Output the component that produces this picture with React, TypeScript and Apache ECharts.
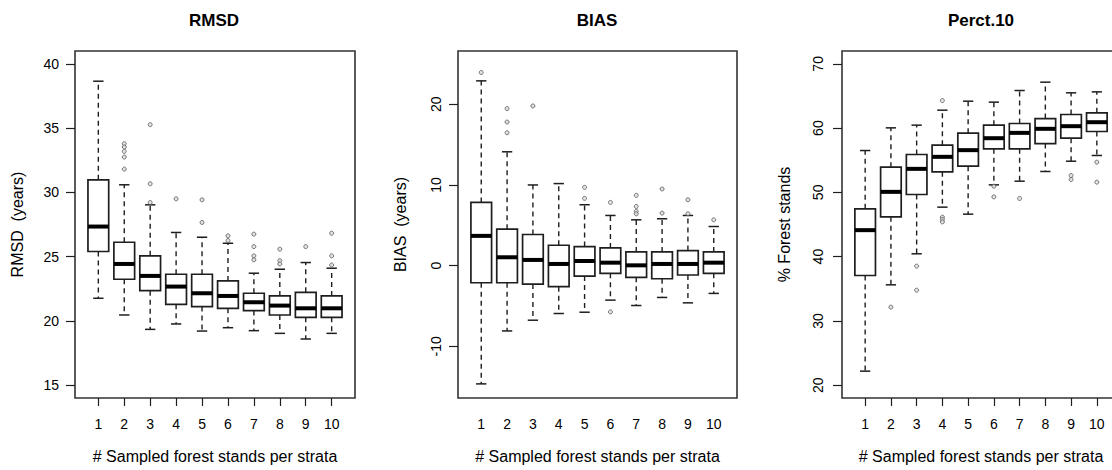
import React, { useEffect, useRef } from "react";
import * as echarts from "echarts";

// ---------- data ----------
const groups = [1, 2, 3, 4, 5, 6, 7, 8, 9, 10];

// RMSD panel
const rmsdLow = [21.76, 20.46, 19.34, 19.76, 19.21, 19.47, 19.24, 19.03, 18.59, 19.03];
const rmsdQ1 = [25.4, 23.24, 22.35, 21.29, 21.11, 20.98, 20.8, 20.46, 20.28, 20.28];
const rmsdMed = [27.34, 24.43, 23.5, 22.67, 22.15, 21.94, 21.45, 21.19, 20.98, 20.98];
const rmsdQ3 = [30.98, 26.12, 25.06, 23.63, 23.63, 23.11, 22.15, 21.94, 22.22, 21.94];
const rmsdHigh = [38.65, 30.59, 29.03, 26.88, 26.51, 26.04, 23.71, 24.02, 24.54, 24.1];
const rmsdOutliers: number[][] = [
  [2, 33.79], [2, 33.53], [2, 33.19], [2, 32.75], [2, 31.81],
  [3, 35.27], [3, 30.67], [3, 29.21],
  [4, 29.5],
  [5, 29.42], [5, 27.66],
  [6, 26.62], [6, 26.25],
  [7, 26.75], [7, 25.78], [7, 25.06], [7, 24.75],
  [8, 25.58], [8, 24.69], [8, 24.43],
  [9, 25.78],
  [10, 26.82], [10, 25.06], [10, 24.35],
];

// BIAS panel
const biasLow = [-14.65, -8.09, -6.76, -5.93, -5.77, -4.27, -4.94, -3.94, -4.61, -3.44];
const biasQ1 = [-2.12, -2.12, -2.28, -2.61, -1.29, -0.95, -1.45, -1.62, -1.16, -0.95];
const biasMed = [3.69, 1.04, 0.71, 0.21, 0.58, 0.37, 0.04, 0.21, 0.21, 0.37];
const biasQ3 = [7.84, 4.52, 3.86, 2.53, 2.37, 2.2, 1.7, 1.7, 1.87, 1.7];
const biasHigh = [22.9, 14.11, 10.0, 10.17, 7.55, 6.22, 5.68, 5.81, 6.22, 4.85];
const biasOutliers: number[][] = [
  [1, 23.94],
  [2, 19.46], [2, 17.8], [2, 16.47],
  [3, 19.79],
  [5, 9.71], [5, 8.34],
  [6, 7.84], [6, -5.73],
  [7, 8.71], [7, 7.34], [7, 6.72], [7, 6.43],
  [8, 9.5], [8, 6.51],
  [9, 8.17], [9, 6.43],
  [10, 5.68],
];

// Perct.10 panel
const pctLow = [22.18, 35.61, 40.44, 47.7, 46.61, 51.17, 51.74, 53.25, 54.85, 55.74];
const pctQ1 = [37.06, 46.19, 49.67, 53.19, 54.08, 56.77, 56.77, 57.6, 58.43, 59.47];
const pctMed = [44.12, 50.08, 53.66, 55.53, 56.57, 58.43, 59.26, 59.89, 60.3, 60.92];
const pctQ3 = [47.44, 53.92, 55.89, 57.34, 59.21, 60.46, 60.72, 61.49, 62.12, 62.38];
const pctHigh = [56.51, 60.04, 60.46, 62.79, 64.19, 64.04, 65.85, 67.15, 65.49, 65.64];
const pctOutliers: number[][] = [
  [2, 32.14],
  [3, 38.52], [3, 34.78],
  [4, 64.29], [4, 46.14], [4, 45.78], [4, 45.41],
  [6, 50.96], [6, 49.3],
  [7, 49.05],
  [9, 52.62], [9, 52.0],
  [10, 54.7], [10, 51.59],
];

const titles = ["RMSD", "BIAS", "Perct.10"];
const yNames = ["RMSD  (years)", "BIAS  (years)", "% Forest stands"];
const xName = "# Sampled forest stands per strata";
const rmsdTicks = [15, 20, 25, 30, 35, 40];
const biasTicks = [-10, 0, 10, 20];
const pctTicks = [20, 30, 40, 50, 60, 70];

// ---------- helpers ----------
const FONT = "'Liberation Sans', Arial, sans-serif";
const LINE = "#1e1e1e";

function boxRows(low: number[], q1: number[], med: number[], q3: number[], high: number[]) {
  return groups.map((g, i) => [g, low[i], q1[i], med[i], q3[i], high[i]]);
}

function renderBox(params: any, api: any) {
  const x = api.value(0);
  const pLow = api.coord([x, api.value(1)]);
  const pQ1 = api.coord([x, api.value(2)]);
  const pMed = api.coord([x, api.value(3)]);
  const pQ3 = api.coord([x, api.value(4)]);
  const pHigh = api.coord([x, api.value(5)]);
  const w = api.size([0.8, 0])[0];
  const cx = pMed[0];
  const sw = w / 2;
  const dash = { stroke: LINE, lineWidth: 1.4, lineDash: [5, 4] };
  const solid = { stroke: LINE, lineWidth: 1.5 };
  return {
    type: "group",
    children: [
      { type: "line", shape: { x1: cx, y1: pQ3[1], x2: cx, y2: pHigh[1] }, style: dash },
      { type: "line", shape: { x1: cx, y1: pQ1[1], x2: cx, y2: pLow[1] }, style: dash },
      { type: "line", shape: { x1: cx - sw / 2, y1: pHigh[1], x2: cx + sw / 2, y2: pHigh[1] }, style: solid },
      { type: "line", shape: { x1: cx - sw / 2, y1: pLow[1], x2: cx + sw / 2, y2: pLow[1] }, style: solid },
      {
        type: "rect",
        shape: { x: cx - w / 2, y: pQ3[1], width: w, height: pQ1[1] - pQ3[1] },
        style: { fill: "#fff", stroke: LINE, lineWidth: 1.7 },
      },
      { type: "line", shape: { x1: cx - w / 2, y1: pMed[1], x2: cx + w / 2, y2: pMed[1] }, style: { stroke: "#000", lineWidth: 4 } },
    ],
  };
}

const gridLefts = [75, 458, 842];
const gridWidths = [280, 279, 278];
const yMins = [14, -16.4, 18];
const yMaxs = [41, 26.6, 72];
const yTickSets = [rmsdTicks, biasTicks, pctTicks];
const yRotates = [0, 90, 90];
const yMargins = [16, 15, 17];
const titleCenters = [209, 592, 976];

export default function App() {
  const ref = useRef<HTMLDivElement>(null);
  useEffect(() => {
    if (!ref.current) return;
    const chart = echarts.init(ref.current, undefined, { renderer: "svg" });
    const boxes = [
      boxRows(rmsdLow, rmsdQ1, rmsdMed, rmsdQ3, rmsdHigh),
      boxRows(biasLow, biasQ1, biasMed, biasQ3, biasHigh),
      boxRows(pctLow, pctQ1, pctMed, pctQ3, pctHigh),
    ];
    const outs = [rmsdOutliers, biasOutliers, pctOutliers];
    const option: any = {
      animation: false,
      backgroundColor: "#fff",
      textStyle: { fontFamily: FONT },
      title: titles.map((t, i) => ({
        text: t,
        left: titleCenters[i],
        top: 7,
        textAlign: "center",
        textStyle: { fontSize: 17, fontWeight: "bold", color: "#000", fontFamily: FONT },
      })),
      grid: gridLefts.map((l, i) => ({
        left: l,
        top: 51,
        width: gridWidths[i],
        height: 347,
        show: true,
        borderColor: "#333",
        borderWidth: 1.6,
        backgroundColor: "transparent",
        containLabel: false,
        outerBoundsMode: "none",
      })),
      xAxis: gridLefts.map((_, i) => ({
        type: "value",
        gridIndex: i,
        min: 0.1,
        max: 10.9,
        name: xName,
        nameLocation: "middle",
        nameGap: 50,
        nameTextStyle: { fontSize: 16, color: "#000", fontFamily: FONT },
        axisLine: { show: false },
        splitLine: { show: false },
        axisTick: { show: true, length: 8, customValues: groups, lineStyle: { color: LINE, width: 1.2 } },
        axisLabel: { customValues: groups, fontSize: 14, color: "#000", margin: 19, fontFamily: FONT },
      })),
      yAxis: gridLefts.map((_, i) => ({
        type: "value",
        gridIndex: i,
        min: yMins[i],
        max: yMaxs[i],
        name: yNames[i],
        nameLocation: "middle",
        nameGap: 50,
        nameTextStyle: { fontSize: 16, color: "#000", fontFamily: FONT },
        axisLine: { show: false },
        splitLine: { show: false },
        axisTick: { show: true, length: 9, customValues: yTickSets[i], lineStyle: { color: LINE, width: 1.2 } },
        axisLabel: {
          customValues: yTickSets[i],
          fontSize: 14,
          color: "#000",
          rotate: yRotates[i],
          margin: yMargins[i],
          fontFamily: FONT,
        },
      })),
      series: [
        ...boxes.map((rows, i) => ({
          type: "custom",
          xAxisIndex: i,
          yAxisIndex: i,
          renderItem: renderBox,
          encode: { x: 0, y: [1, 2, 3, 4, 5] },
          data: rows,
          z: 2,
        })),
        ...outs.map((pts, i) => ({
          type: "scatter",
          xAxisIndex: i,
          yAxisIndex: i,
          data: pts,
          symbol: "circle",
          symbolSize: 4,
          itemStyle: { color: "#ddd", borderColor: "#555", borderWidth: 1 },
          z: 3,
        })),
      ],
    };
    chart.setOption(option);
    return () => chart.dispose();
  }, []);
  return (
    <div
      ref={ref}
      style={{ position: "fixed", left: 0, top: 0, width: 1112, height: 470, background: "#fff" }}
    />
  );
}
